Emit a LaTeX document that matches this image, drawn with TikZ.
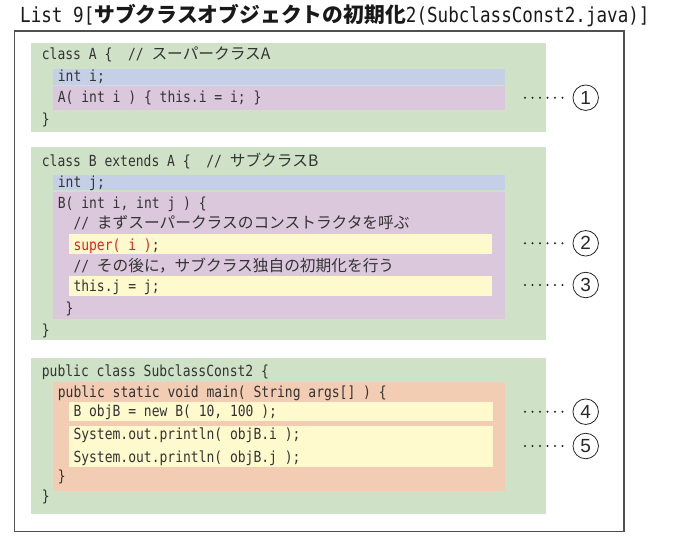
\documentclass[tikz,border=0pt]{standalone}
\usepackage{fontspec}
\newfontfamily\codefont[FakeStretch=0.85]{DejaVu Sans Mono}
\newfontfamily\cjkfont{Noto Sans CJK JP}
\newfontfamily\numfont{Liberation Sans}
\definecolor{cgreen}{RGB}{207,226,200}
\definecolor{cblue}{RGB}{197,208,230}
\definecolor{cpurple}{RGB}{219,200,220}
\definecolor{cyellow}{RGB}{255,250,206}
\definecolor{csalmon}{RGB}{243,204,180}
\definecolor{ctext}{RGB}{51,51,51}
\definecolor{cred}{RGB}{230,32,28}
\definecolor{cframe}{RGB}{80,80,80}
\newcommand\jtxt[1]{{\cjkfont\fontsize{15.7}{18}\selectfont #1}}
\newcommand\jtitle[1]{{\cjkfont\bfseries\fontsize{20.8}{24}\selectfont #1}}
\begin{document}
\begin{tikzpicture}[x=1pt,y=-1pt,
  code/.style={anchor=base west, inner sep=0pt, text=ctext,
    font=\codefont\fontsize{15.3}{18}\selectfont},
  titlestyle/.style={anchor=base west, inner sep=0pt, text=black!90,
    font=\codefont\fontsize{20.7}{24}\selectfont},
  num/.style={circle, draw=black!85, line width=0.8pt, minimum size=25.5pt,
    inner sep=0pt, font=\numfont\fontsize{19}{20}\selectfont, text=black!85},
  leader/.style={line width=2.3pt, line cap=round, black!85,
    dash pattern=on 0pt off 7.5pt, shorten >=9pt}]
\useasboundingbox (0,0) rectangle (676,551);
% outer frame
\draw[cframe, line width=1.3pt] (14.5,31) rectangle (624,531.5);
% title
\node[titlestyle] (title) at (20,23) {List 9[\jtitle{サブクラスオブジェクトの初期化}2(SubclassConst2.java)]};
% ---------- class A ----------
\fill[cgreen] (31,43) rectangle (546,132);
\fill[cblue] (53,69) rectangle (505,84.5);
\fill[cpurple] (53,86) rectangle (505,109.5);
\node[code] (a1) at (41.7,59.5) {class A \{\ \ // \jtxt{スーパークラスA}};
\node[code] (a2) at (57.7,81) {int i;};
\node[code] (a3) at (57.7,102) {A( int i ) \{ this.i = i; \}};
\node[code] (a4) at (41.7,124.5) {\}};
% ---------- class B ----------
\fill[cgreen] (31,147) rectangle (546,340);
\fill[cblue] (53,175) rectangle (505,190);
\fill[cpurple] (53,191.7) rectangle (505,319.3);
\fill[cyellow] (69,234) rectangle (491.7,253.5);
\fill[cyellow] (69,276) rectangle (491.7,295.5);
\node[code] (b1) at (41.7,166.5) {class B extends A \{\ \ // \jtxt{サブクラスB}};
\node[code] (b2) at (57.7,187.5) {int j;};
\node[code] (b3) at (57.7,208) {B( int i, int j ) \{};
\node[code] (b4) at (73.3,228.5) {// \jtxt{まずスーパークラスのコンストラクタを呼ぶ}};
\node[code, text=cred] (b5) at (73.3,250) {super( i )\textcolor{ctext}{;}};
\node[code] (b6) at (73.3,271) {// \jtxt{その後に，サブクラス独自の初期化を行う}};
\node[code] (b7) at (73.3,291) {this.j = j;};
\node[code] (b8) at (65.5,313) {\}};
\node[code] (b9) at (41.7,335) {\}};
% ---------- class SubclassConst2 ----------
\fill[cgreen] (31,358) rectangle (546,514);
\fill[csalmon] (53,382) rectangle (505,490.7);
\fill[cyellow] (69,401.7) rectangle (492.7,420.7);
\fill[cyellow] (69,426) rectangle (492.7,467.3);
\node[code] (m1) at (41.7,376.5) {public class SubclassConst2 \{};
\node[code] (m2) at (57.7,397.5) {public static void main( String args[] ) \{};
\node[code] (m3) at (73.3,416.5) {B objB = new B( 10, 100 );};
\node[code] (m4) at (73.3,439.5) {System.out.println( objB.i );};
\node[code] (m5) at (73.3,462) {System.out.println( objB.j );};
\node[code] (m6) at (57.7,481.5) {\}};
\node[code] (m7) at (41.7,501.5) {\}};
% ---------- markers ----------
\node[num] (c1) at (585.7,97.7) {1};
\node[num] (c2) at (585.7,243.3) {2};
\node[num] (c3) at (585.7,285) {3};
\node[num] (c4) at (585.7,411.7) {4};
\node[num] (c5) at (585.7,446) {5};
\coordinate (d1) at (525,97.7);
\coordinate (d2) at (525,243.3);
\coordinate (d3) at (525,285);
\coordinate (d4) at (525,411.7);
\coordinate (d5) at (525,446);
\draw[leader] (d1) -- (c1);
\draw[leader] (d2) -- (c2);
\draw[leader] (d3) -- (c3);
\draw[leader] (d4) -- (c4);
\draw[leader] (d5) -- (c5);
\end{tikzpicture}
\end{document}
